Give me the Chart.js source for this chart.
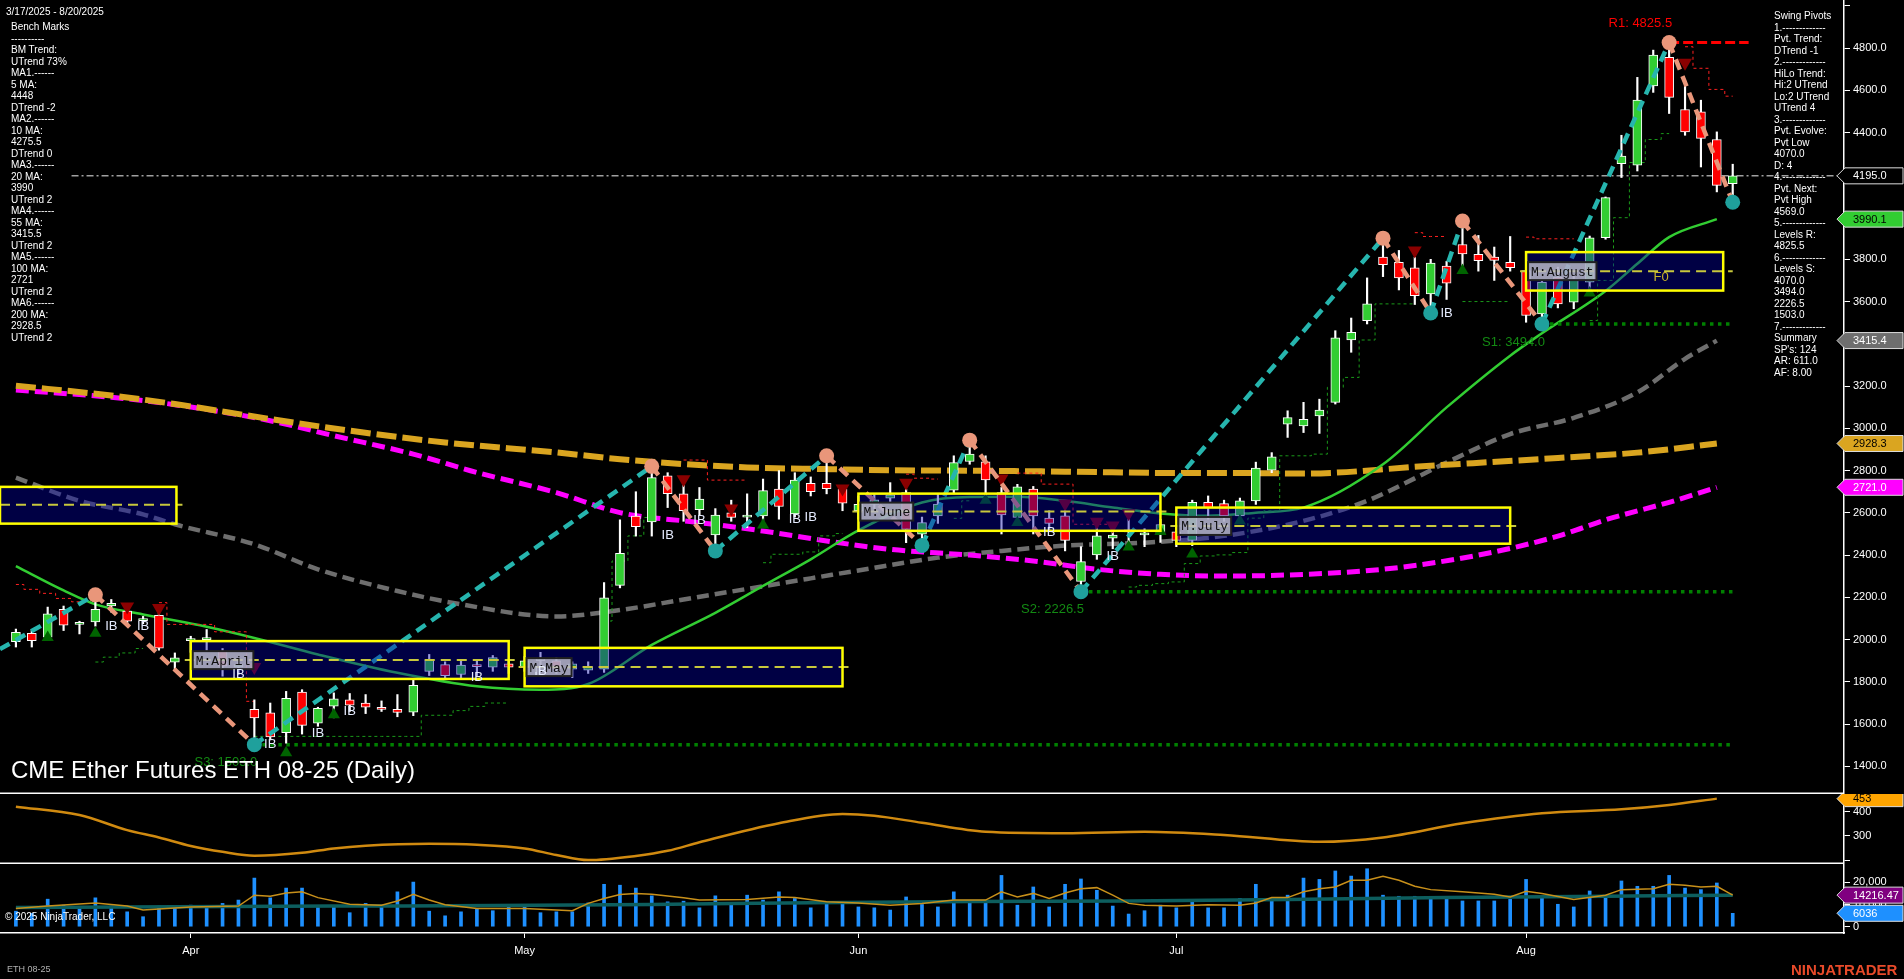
<!DOCTYPE html>
<html>
<head>
<meta charset="utf-8">
<title>CME Ether Futures ETH 08-25 (Daily)</title>
<script src="https://cdn.jsdelivr.net/npm/chart.js@4.4.1/dist/chart.umd.min.js"></script>
<style>
  body { margin: 0; background: #000; }
  #wrap { position: relative; width: 1904px; height: 979px; overflow: hidden; background: #000;
          font-family: "Liberation Sans", Arial, sans-serif; color: #fff; }
  canvas { position: absolute; left: 0; }
  .txt { position: absolute; white-space: pre; font-size: 10px; line-height: 11.5px; color: #fff; }
</style>
</head>
<body>
<div id="wrap">
  <canvas id="price" width="1904" height="794" style="top:0"></canvas>
  <canvas id="osc" width="1904" height="70" style="top:794px"></canvas>
  <canvas id="vol" width="1904" height="115" style="top:864px"></canvas>

  <div class="txt" style="left:6px;top:6px">3/17/2025 - 8/20/2025</div>
  <div class="txt" style="left:11px;top:21px">Bench Marks
----------
BM Trend:
UTrend 73%
MA1.------
5 MA:
4448
DTrend -2
MA2.------
10 MA:
4275.5
DTrend 0
MA3.------
20 MA:
3990
UTrend 2
MA4.------
55 MA:
3415.5
UTrend 2
MA5.------
100 MA:
2721
UTrend 2
MA6.------
200 MA:
2928.5
UTrend 2</div>
  <div class="txt" style="left:1774px;top:10px">Swing Pivots
1.-------------
Pvt. Trend:
DTrend -1
2.-------------
HiLo Trend:
Hi:2 UTrend
Lo:2 UTrend
UTrend 4
3.-------------
Pvt. Evolve:
Pvt Low
4070.0
D: 4
4.-------------
Pvt. Next:
Pvt High
4569.0
5.-------------
Levels R:
4825.5
6.-------------
Levels S:
4070.0
3494.0
2226.5
1503.0
7.-------------
Summary
SP's: 124
AR: 611.0
AF: 8.00</div>
  <div style="position:absolute;left:11px;top:756px;font-size:24px;line-height:28px;white-space:pre">CME Ether Futures ETH 08-25 (Daily)</div>
  <div style="position:absolute;left:5px;top:911px;font-size:10px;line-height:12px;white-space:pre">© 2025 NinjaTrader, LLC</div>
  <div style="position:absolute;left:7px;top:963px;font-size:9px;line-height:12px;color:#b0b0b0">ETH 08-25</div>
  <div style="position:absolute;left:1791px;top:961px;font-size:15px;line-height:18px;font-weight:bold;color:#e84a2a">NINJATRADER</div>
</div>

<script>
// trading days shown on the chart
const dates = ['3/17','3/18','3/19','3/20','3/21','3/24','3/25','3/26','3/27','3/28','3/31',
  '4/1','4/2','4/3','4/4','4/7','4/8','4/9','4/10','4/11','4/14','4/15','4/16','4/17','4/21','4/22','4/23','4/24','4/25','4/28','4/29','4/30',
  '5/1','5/2','5/5','5/6','5/7','5/8','5/9','5/12','5/13','5/14','5/15','5/16','5/19','5/20','5/21','5/22','5/23','5/27','5/28','5/29','5/30',
  '6/2','6/3','6/4','6/5','6/6','6/9','6/10','6/11','6/12','6/13','6/16','6/17','6/18','6/20','6/23','6/24','6/25','6/26','6/27','6/30',
  '7/1','7/2','7/3','7/7','7/8','7/9','7/10','7/11','7/14','7/15','7/16','7/17','7/18','7/21','7/22','7/23','7/24','7/25','7/28','7/29','7/30','7/31',
  '8/1','8/4','8/5','8/6','8/7','8/8','8/11','8/12','8/13','8/14','8/15','8/18','8/19','8/20'];
const monthStarts = ['4/1', '5/1', '6/2', '7/1', '8/1'];
const monthNames = ['Apr', 'May', 'Jun', 'Jul', 'Aug'];

const open = [1990,2030,2012,2143,2072,2084,2160,2135,2090,2115,1893,
  1995,2000,1945,1870,1670,1653,1560,1752,1605,1685,1715,1700,1680,1670,1657,1850,1882,1835,1880,1870,1885,
  1870,1900,1900,1860,1855,1860,2257,2585,2557,2775,2690,2615,2495,2600,2580,2585,2712,2595,2740,2740,2712,
  2610,2640,2670,2696,2499,2586,2707,2843,2842,2696,2578,2712,2575,2586,2275,2401,2480,2520,2495,2500,
  2510,2470,2650,2644,2586,2657,2802,3020,3012,3059,3123,3418,3510,3810,3786,3760,3636,3768,3870,3823,3810,3786,
  3747,3541,3715,3597,3692,3902,4253,4245,4620,4756,4509,4498,4367,4158];
const high = [2050,2048,2154,2159,2087,2212,2190,2140,2110,2125,1937,
  2016,2048,1958,1905,1715,1700,1755,1763,1680,1748,1745,1740,1710,1740,1810,1930,1895,1900,1900,1925,1900,
  1920,1940,1915,1895,1895,2270,2567,2700,2800,2790,2730,2720,2620,2660,2690,2760,2800,2790,2770,2860,2730,
  2680,2690,2743,2712,2580,2690,2870,2935,2870,2720,2735,2725,2610,2610,2440,2530,2520,2570,2525,2570,
  2540,2660,2680,2660,2670,2840,2885,3083,3123,3138,3462,3522,3712,3900,3842,3810,3800,3790,3975,3913,3858,3908,
  3794,3700,3763,3720,3910,4095,4387,4661,4790,4825.5,4648,4553,4403,4250];
const low = [1965,1965,2000,2043,2027,2064,2130,2072,2075,1950,1858,
  1940,1945,1827,1835,1503,1525,1510,1553,1590,1630,1660,1650,1660,1635,1640,1830,1815,1820,1830,1850,1840,
  1850,1880,1840,1820,1840,1845,2245,2490,2490,2625,2560,2590,2430,2560,2530,2560,2570,2580,2680,2690,2610,
  2570,2620,2650,2459,2446,2550,2690,2830,2673,2500,2555,2500,2520,2420,2226.5,2380,2430,2440,2440,2460,
  2440,2445,2570,2560,2560,2640,2790,2957,2980,2976,3115,3360,3494,3718,3655,3586,3546,3610,3760,3744,3700,3744,
  3502,3494,3570,3566,3650,3895,4187,4218,4590,4490,4387,4237,4119,4070];
const close = [2035,1995,2122,2068,2075,2143,2172,2087,2098,1960,1914,
  2003,2006,1874,1882,1630,1540,1722,1594,1675,1720,1690,1680,1670,1655,1784,1905,1830,1880,1872,1915,1870,
  1900,1905,1860,1885,1872,2198,2408,2535,2767,2691,2610,2665,2590,2578,2585,2705,2630,2755,2700,2715,2646,
  2640,2662,2685,2522,2554,2641,2838,2878,2756,2590,2723,2586,2550,2470,2369,2491,2495,2510,2505,2545,
  2470,2650,2625,2586,2657,2812,2865,3051,3043,3086,3428,3454,3589,3775,3712,3628,3782,3687,3826,3794,3795,3760,
  3534,3692,3589,3708,3902,4092,4288,4553,4767,4566,4403,4372,4150,4195];
const volume = [7000,6000,12400,9700,8900,13000,9300,6700,4500,9300,9300,
  9700,8500,10500,12000,21900,13000,17400,17400,9400,8900,6300,10500,8900,15700,20100,7000,4900,6700,8000,7200,8700,
  8900,6300,6700,6700,10700,19100,18700,17400,13900,11200,11500,8500,13900,10500,14200,12000,15700,12700,8500,10500,10900,
  8900,8500,7500,13400,10000,8900,15700,11200,11200,23100,9700,17900,8900,19100,21500,16400,9300,5700,7200,9700,
  8500,12000,8500,8500,12700,19100,12300,14200,21900,21300,25100,22800,26100,14200,13700,13700,13400,13000,11600,11600,11600,12300,
  21300,13700,10100,8900,16100,13700,20600,18200,18200,23100,17400,16700,19700,6036];

// moving averages [candle index, value] (indicators stop at the last closed bar)
const ma20 = [[0,2348],[3,2233],[5,2167],[8,2119],[12,2061],[15,2008],[19,1930],[24,1843],[29,1779],[33,1763],[36,1790],
  [40,1975],[44,2127],[47,2254],[50,2380],[53,2517],[57,2649],[60,2675],[63,2676],[66,2657],[69,2625],[72,2597],[75,2586],
  [78,2601],[81,2625],[86,2830],[90,3099],[94,3344],[96,3450],[100,3650],[102,3779],[104,3905],[107,3990]];
const ma55 = [[0,2767],[4,2657],[8,2593],[10,2546],[15,2451],[19,2333],[24,2230],[28,2167],[34,2110],[38,2140],[42,2190],
  [46,2240],[50,2290],[54,2340],[58,2388],[62,2420],[66,2445],[71,2459],[76,2491],[81,2562],[85,2657],[90,2838],[94,2973],
  [98,3050],[102,3170],[105,3329],[107,3415]];
const ma100 = [[0,3181],[6,3147],[10,3112],[16,3036],[20,2965],[25,2878],[29,2791],[34,2696],[38,2601],[43,2554],[47,2514],
  [51,2467],[55,2427],[60,2400],[64,2372],[68,2333],[72,2309],[76,2301],[80,2306],[86,2333],[92,2400],[97,2490],[100,2567],
  [104,2650],[107,2721]];
const ma200 = [[0,3202],[6,3155],[10,3115],[16,3044],[21,2989],[27,2933],[34,2886],[38,2854],[42,2831],[46,2815],[51,2807],
  [55,2802],[61,2799],[66,2795],[72,2789],[78,2788],[81,2786],[89,2823],[97,2860],[102,2885],[107,2928]];

// swing pivots (zigzag), index -1 is the slot left of the first candle
const pivotIdx = [-1, 5, 15, 40, 44, 51, 57, 60, 67, 86, 89, 91, 96, 104, 108];
const pivotVal = [1955, 2212, 1503, 2820, 2420, 2870, 2446, 2944, 2226.5, 3900, 3546, 3981, 3494, 4825.5, 4070];

// trailing step lines
const redTrail = [[0,2261],[1,2238],[2,2219],[3,2195],[4,2179],
  [9,2175],[10,2072],[11,2072],[12,2072],[13,2037],[14,2037],[15,1708],
  [42,2850],[43,2850],[44,2755],[45,2755],[46,2755],[56,2783],[57,2764],[58,2760],
  [63,2788],[64,2788],[65,2736],[66,2736],[67,2546],[68,2546],[69,2546],
  [88,3926],[89,3908],[90,3908],[95,3905],[96,3897],[97,3897],[98,3897],
  [105,4806],[106,4704],[107,4604],[108,4572]];
const greenTrail = [[5,1894],[6,1917],[7,1937],[8,1958],
  [15,1542],[16,1542],[17,1542],[18,1542],[19,1542],[20,1542],[21,1542],[22,1542],[23,1542],[24,1542],[25,1542],
  [26,1642],[27,1642],[28,1664],[29,1684],[30,1700],[31,1700],
  [37,2088],[38,2372],[39,2491],[40,2578],
  [47,2364],[48,2404],[49,2404],[50,2415],[51,2491],[52,2502],[59,2574],[60,2657],
  [70,2249],[71,2257],[72,2265],[73,2273],[74,2360],[75,2396],[76,2401],[77,2412],[78,2575],[79,2610],[80,2870],
  [81,2870],[82,2878],[83,3194],[84,3241],[85,3418],[86,3589],[87,3589],[88,3589],
  [91,3600],[92,3600],[93,3600],[94,3600],[99,3510],[100,3700],[101,3997],[102,4258],[103,4367],[104,4395]];

const upTri = [[2,2010],[5,2030],[15,1503],[17,1465],[20,1645],[44,2415],[47,2543],[57,2446],[61,2660],[63,2554],[67,2230],
  [70,2438],[72,2512],[74,2405],[77,2561],[89,3546],[91,3747],[96,3494],[99,3640],[108,4075]];
const downTri = [[7,2157],[9,2150],[15,1870],[42,2759],[45,2621],[52,2715],[56,2743],[62,2763],[66,2644],[68,2558],
  [69,2540],[70,2598],[88,3842],[105,4730]];

// support / resistance levels
const levelText = ['R1: 4825.5', 'S1: 3494.0', 'S2: 2226.5', 'S3: 1503.0'];
const levelIdx = [104, 96, 67, 15];
const levelEnd = [109, 108, 108, 108];
const levelVal = [4825.5, 3494, 2226.5, 1503];

// monthly boxes
const boxFrom = [-1, 11, 32, 53, 73, 95];
const boxTo = [10.1, 31, 52, 72, 94, 107.4];
const boxHigh = [2723, 1993, 1961, 2691, 2625, 3834];
const boxLow = [2549, 1814, 1779, 2515, 2454, 3652];
const boxMid = [2638, 1903, 1870, 2606, 2538, 3744];
const boxName = ['', 'M:April', 'M:May', 'M:June', 'M:July', 'M:August'];

const ibIdx = [6, 8, 14, 16, 19, 21, 29, 33, 41, 43, 49, 50, 65, 69, 90];
const ibVal = [2064, 2064, 1835, 1503, 1558, 1661, 1819, 1850, 2491, 2562, 2570, 2578, 2507, 2396, 3546];

const lastPrice = 4195.0;
const priceTicks = [1400,1600,1800,2000,2200,2400,2600,2800,3000,3200,3400,3600,3800,4000,4200,4400,4600,4800,5000];
const priceTagVal = [4195.0, 3990.1, 3415.4, 2928.3, 2721.0];
const priceTagFill = ['#000000', '#32cd32', '#6e6e6e', '#daa520', '#ff00ff'];
const priceTagInk = ['#ffffff', '#000000', '#ffffff', '#000000', '#ffffff'];

// lower panels
const oscPts = [[0,420],[4,386],[7,324],[9,294],[11,259],[13,235],[15,219],[18,231],[20,249],[22,260],[26,268],[29,264],
  [32,249],[34,222],[36,201],[39,218],[41,239],[43,274],[48,352],[52,390],[54,383],[57,354],[61,317],[66,311],[71,317],
  [76,304],[82,276],[86,294],[91,352],[96,393],[101,409],[104,427],[107,453]];
const oscTicks = [200, 300, 400];
const volTicks = [0, 10000, 20000];
const volFast = [[0,8200],[2,9300],[5,10700],[7,9300],[8,7500],[11,8900],[14,9300],[15,14200],[16,13700],[17,15200],[18,15700],
  [19,13100],[21,10100],[23,9700],[24,11600],[25,14600],[26,12000],[27,9900],[29,8200],[32,8200],[34,7500],[35,7200],[36,10500],
  [37,12700],[38,14500],[39,15000],[40,14600],[42,13000],[43,12000],[46,12300],[48,13400],[49,13100],[51,11200],[53,10700],
  [55,9700],[57,10500],[59,12000],[61,12000],[62,15700],[63,13400],[64,15000],[65,12700],[66,15200],[67,17100],[68,17600],
  [69,14200],[70,10500],[71,9700],[73,9300],[75,9900],[77,9700],[78,10700],[79,13100],[80,13100],[81,15700],[82,17100],
  [83,17900],[84,20900],[85,20900],[86,22700],[87,20900],[88,18200],[89,16700],[91,15700],[93,14600],[94,13400],[95,16000],
  [96,15000],[98,12300],[100,14200],[101,16700],[103,17100],[104,19100],[105,18700],[106,17900],[107,18200],[108,14200]];
const volSlow = [[0,8600],[10,9000],[20,9300],[30,9500],[40,10000],[50,10800],[60,11300],[70,11600],[80,12200],[90,13100],
  [100,13700],[108,14216.47]];

// ---------- helpers ----------
const padRight = ['p1', 'p2', 'p3', 'p4', 'p5', 'p6', 'p7'];
const labels = ['p0'].concat(dates, padRight);
const N = labels.length;
const series = arr => [null].concat(arr, padRight.map(() => null));
const sparse = pts => {
  const a = new Array(N).fill(null);
  pts.forEach(p => { a[p[0] + 1] = p[1]; });
  return a;
};
const monthTickIdx = monthStarts.map(d => labels.indexOf(d));

Chart.defaults.font.family = '"Liberation Sans", Arial, sans-serif';
Chart.defaults.color = '#ffffff';

function lineDs(data, color, width, dash, order, extra) {
  return Object.assign({
    type: 'line', data, borderColor: color, borderWidth: width, borderDash: dash || [],
    pointRadius: 0, spanGaps: true, fill: false, order, cubicInterpolationMode: 'monotone'
  }, extra || {});
}

function drawTag(ctx, right, y, text, fill, ink, w) {
  ctx.save();
  ctx.beginPath();
  ctx.moveTo(right - 7, y);
  ctx.lineTo(right + 1, y - 8);
  ctx.lineTo(w - 1, y - 8);
  ctx.lineTo(w - 1, y + 8);
  ctx.lineTo(right + 1, y + 8);
  ctx.closePath();
  ctx.fillStyle = fill;
  ctx.fill();
  ctx.strokeStyle = '#dcdcdc';
  ctx.lineWidth = 1;
  ctx.stroke();
  ctx.fillStyle = ink;
  ctx.font = '11px "Liberation Sans"';
  ctx.textAlign = 'left';
  ctx.textBaseline = 'middle';
  ctx.fillText(text, right + 9, y + 0.5);
  ctx.restore();
}

// value tags on the right axis, plus the panel separator line
const axisTags = {
  id: 'axisTags',
  afterDraw(chart, args, opts) {
    const { ctx, chartArea } = chart;
    if (opts.separator) {
      ctx.save();
      ctx.strokeStyle = '#ffffff';
      ctx.lineWidth = 1.5;
      ctx.beginPath();
      ctx.moveTo(0, chartArea.bottom - 0.75);
      ctx.lineTo(chartArea.right, chartArea.bottom - 0.75);
      ctx.stroke();
      ctx.restore();
    }
    (opts.items || []).forEach(t => {
      drawTag(ctx, chartArea.right, chart.scales.y.getPixelForValue(t.value), t.text, t.fill, t.ink, chart.width);
    });
  }
};
Chart.register(axisTags);

// boxes, level labels and markers on the price panel
const overlay = {
  id: 'overlay',
  beforeDatasetsDraw(chart) {
    const { ctx, chartArea } = chart;
    const yy = chart.scales.y.getPixelForValue(lastPrice);
    ctx.save();
    ctx.strokeStyle = '#a0a0a0';
    ctx.lineWidth = 1.5;
    ctx.setLineDash([7, 3, 2, 3]);
    ctx.beginPath();
    ctx.moveTo(chart.scales.x.getPixelForValue(4.5), yy);
    ctx.lineTo(chartArea.right, yy);
    ctx.stroke();
    ctx.restore();
  },
  afterDatasetsDraw(chart) {
    const { ctx } = chart;
    const xs = chart.scales.x, ys = chart.scales.y;
    const px = ci => xs.getPixelForValue(ci + 1);
    const py = v => ys.getPixelForValue(v);
    ctx.save();
    boxFrom.forEach((from, k) => {
      const x0 = px(from), x1 = px(boxTo[k]);
      const yt = py(boxHigh[k]), yb = py(boxLow[k]), ym = py(boxMid[k]);
      ctx.fillStyle = 'rgba(0,0,170,0.4)';
      ctx.fillRect(x0, yt, x1 - x0, yb - yt);
      ctx.setLineDash([10, 6]);
      ctx.strokeStyle = '#c8c83c';
      ctx.lineWidth = 2;
      ctx.beginPath();
      ctx.moveTo(Math.max(0, x0 - 6), ym);
      ctx.lineTo(k === boxFrom.length - 1 ? px(108) : x1 + 6, ym);
      ctx.stroke();
      ctx.setLineDash([]);
      ctx.strokeStyle = '#ffff00';
      ctx.lineWidth = 2.5;
      ctx.strokeRect(x0, yt, x1 - x0, yb - yt);
      if (boxName[k]) {
        ctx.font = '13px "Liberation Mono"';
        const w = ctx.measureText(boxName[k]).width + 6;
        ctx.fillStyle = 'rgba(185,185,200,0.85)';
        ctx.fillRect(x0 + 2, ym - 9, w, 18);
        ctx.strokeStyle = '#202020';
        ctx.lineWidth = 2;
        ctx.strokeRect(x0 + 2, ym - 9, w, 18);
        ctx.fillStyle = '#101010';
        ctx.textAlign = 'left';
        ctx.textBaseline = 'middle';
        ctx.fillText(boxName[k], x0 + 5, ym + 1);
      }
    });

    ctx.font = '13px "Liberation Sans"';
    ctx.textAlign = 'right';
    ctx.textBaseline = 'middle';
    levelText.forEach((t, k) => {
      const up = k === 0;
      ctx.fillStyle = up ? '#ff0000' : '#138a13';
      ctx.fillText(t, px(levelIdx[k]) + 3, py(levelVal[k]) + (up ? -19 : 18));
    });

    ctx.textAlign = 'center';
    ctx.fillStyle = '#e6ecff';
    ibIdx.forEach((ci, k) => ctx.fillText('IB', px(ci), py(ibVal[k])));

    ctx.fillStyle = '#c8b42a';
    ctx.fillText('F0', px(103.5), py(3716));
    ctx.restore();
  }
};

// ---------- price panel ----------
const candleColors = series(close.map((c, i) => (c >= open[i] ? '#32cd32' : '#ff0000')));
const highs = pivotIdx.map((ci, k) => [ci, pivotVal[k]]).filter((p, k) => k > 0 && p[1] > pivotVal[k - 1]);
const lows = pivotIdx.map((ci, k) => [ci, pivotVal[k]]).filter((p, k) => k > 0 && p[1] < pivotVal[k - 1]);
const legs = pivotIdx.slice(1).map((ci, k) => lineDs(
  sparse([[pivotIdx[k], pivotVal[k]], [ci, pivotVal[k + 1]]]),
  pivotVal[k + 1] > pivotVal[k] ? '#26b5ae' : '#e9967a', 4.5, [11, 7], 1,
  { cubicInterpolationMode: 'default', tension: 0 }));
const levels = levelIdx.map((ci, k) => lineDs(
  sparse([[ci, levelVal[k]], [levelEnd[k], levelVal[k]]]),
  k === 0 ? '#ff0000' : '#008000', k === 0 ? 3 : 3.5, k === 0 ? [10, 4] : [3.5, 4.5], 5,
  { cubicInterpolationMode: 'default', tension: 0 }));

const noPad = { padding: 0, autoPadding: false };

new Chart(document.getElementById('price'), {
  type: 'bar',
  data: {
    labels,
    datasets: [
      lineDs(sparse(ma200), '#daa520', 6, [20, 6], 9),
      lineDs(sparse(ma100), '#ff00ff', 5, [13, 6], 9),
      lineDs(sparse(ma55), '#6e6e6e', 4.5, [12, 6], 9),
      lineDs(sparse(ma20), '#32cd32', 2.5, [], 8),
      lineDs(sparse(redTrail), '#ff2020', 1, [3, 3], 7, { spanGaps: false, stepped: 'middle' }),
      lineDs(sparse(greenTrail), '#1a9a1a', 1, [3, 3], 7, { spanGaps: false, stepped: 'middle' }),
      ...levels,
      { type: 'bar', data: series(low.map((l, i) => [l, high[i]])), backgroundColor: '#ffffff',
        barThickness: 1.5, grouped: false, order: 4 },
      { type: 'bar', data: series(open.map((o, i) => [o, close[i]])), backgroundColor: candleColors,
        borderColor: '#ffffff', borderWidth: 1, borderSkipped: false, barThickness: 9, minBarLength: 2,
        grouped: false, order: 3 },
      { type: 'line', data: sparse(upTri), showLine: false, pointStyle: 'triangle', pointRadius: 7,
        pointBackgroundColor: '#006400', pointBorderWidth: 0, order: 2 },
      { type: 'line', data: sparse(downTri), showLine: false, pointStyle: 'triangle', pointRotation: 180,
        pointRadius: 8, pointBackgroundColor: '#8b0000', pointBorderWidth: 0, order: 2 },
      ...legs,
      { type: 'line', data: sparse(highs), showLine: false, pointRadius: 7.5,
        pointBackgroundColor: '#e9967a', pointBorderWidth: 0, order: 0 },
      { type: 'line', data: sparse(lows), showLine: false, pointRadius: 7.5,
        pointBackgroundColor: '#1fa09c', pointBorderWidth: 0, order: 0 }
    ]
  },
  options: {
    responsive: false, animation: false, devicePixelRatio: 1, events: [],
    layout: noPad,
    plugins: {
      legend: { display: false }, tooltip: { enabled: false },
      axisTags: {
        separator: true,
        items: priceTagVal.map((v, k) => ({ value: v, text: v.toFixed(1), fill: priceTagFill[k], ink: priceTagInk[k] }))
      }
    },
    scales: {
      x: { type: 'category', offset: false, display: false, grid: { offset: false } },
      y: {
        position: 'right', min: 1269.4, max: 5027.2,
        afterBuildTicks: s => { s.ticks = priceTicks.map(v => ({ value: v })); },
        afterFit: s => { s.width = 60; s.paddingTop = 0; s.paddingBottom = 0; },
        ticks: { color: '#ffffff', font: { size: 11 }, padding: 3, callback: v => (v > 4900 ? '' : v.toFixed(1)) },
        grid: { display: true, drawOnChartArea: false, color: '#ffffff', tickLength: 6 },
        border: { display: true, color: '#ffffff', width: 1.5 }
      }
    }
  },
  plugins: [overlay]
});

// ---------- oscillator panel ----------
new Chart(document.getElementById('osc'), {
  type: 'line',
  data: {
    labels,
    datasets: [lineDs(sparse(oscPts), '#d08a10', 2.5, [], 1)]
  },
  options: {
    responsive: false, animation: false, devicePixelRatio: 1, events: [],
    layout: noPad,
    plugins: {
      legend: { display: false }, tooltip: { enabled: false },
      axisTags: { separator: true, items: [{ value: 453, text: '453', fill: '#ffa500', ink: '#000000' }] }
    },
    scales: {
      x: { type: 'category', offset: false, display: false },
      y: {
        position: 'right', min: 185, max: 472,
        afterBuildTicks: s => { s.ticks = oscTicks.map(v => ({ value: v })); },
        afterFit: s => { s.width = 60; s.paddingTop = 0; s.paddingBottom = 0; },
        ticks: { color: '#ffffff', font: { size: 11 }, padding: 3, callback: v => (v === 200 ? '' : v) },
        grid: { display: true, drawOnChartArea: false, color: '#ffffff', tickLength: 6 },
        border: { display: true, color: '#ffffff', width: 1.5 }
      }
    }
  }
});

// ---------- volume panel ----------
new Chart(document.getElementById('vol'), {
  type: 'bar',
  data: {
    labels,
    datasets: [
      { type: 'bar', data: series(volume), backgroundColor: '#1e90ff', barThickness: 3, grouped: false, order: 3 },
      lineDs(sparse(volSlow), '#0d5e5e', 3.5, [], 2),
      lineDs(sparse(volFast), '#c8901a', 1.5, [], 1, { cubicInterpolationMode: 'default', tension: 0 })
    ]
  },
  options: {
    responsive: false, animation: false, devicePixelRatio: 1, events: [],
    layout: noPad,
    plugins: {
      legend: { display: false }, tooltip: { enabled: false },
      axisTags: {
        items: [
          { value: 14216.47, text: '14216.47', fill: '#800080', ink: '#ffffff' },
          { value: 6036, text: '6036', fill: '#1e90ff', ink: '#ffffff' }
        ]
      }
    },
    scales: {
      x: {
        type: 'category', offset: false,
        afterFit: s => { s.height = 46; s.paddingLeft = 0; s.paddingRight = 0; },
        ticks: {
          autoSkip: false, maxRotation: 0, color: '#ffffff', font: { size: 11 }, padding: 6,
          callback: v => { const k = monthStarts.indexOf(labels[v]); return k >= 0 ? monthNames[k] : ''; }
        },
        grid: {
          display: true, drawOnChartArea: false, offset: false, tickLength: 5,
          color: c => (monthTickIdx.includes(c.index) ? '#ffffff' : 'rgba(0,0,0,0)')
        },
        border: { display: true, color: '#ffffff', width: 1.5 }
      },
      y: {
        position: 'right', min: -2838, max: 28243,
        afterBuildTicks: s => { s.ticks = volTicks.map(v => ({ value: v })); },
        afterFit: s => { s.width = 60; s.paddingTop = 0; s.paddingBottom = 0; },
        ticks: { color: '#ffffff', font: { size: 11 }, padding: 3 },
        grid: { display: true, drawOnChartArea: false, color: '#ffffff', tickLength: 6 },
        border: { display: true, color: '#ffffff', width: 1.5 }
      }
    }
  }
});
</script>
</body>
</html>
